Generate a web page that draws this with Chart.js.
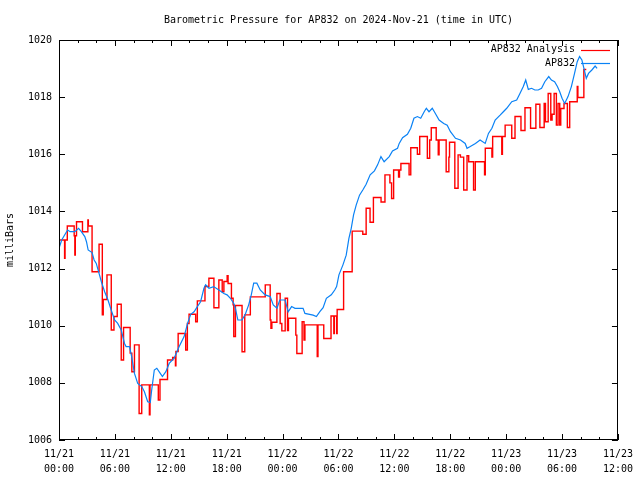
<!DOCTYPE html>
<html>
<head>
<meta charset="utf-8">
<script src="https://cdn.jsdelivr.net/npm/chart.js@4"></script>
<style>
  html, body { margin: 0; padding: 0; background: #fff; }
  #wrap { width: 640px; height: 480px; }
</style>
</head>
<body>
<div id="wrap"><canvas id="pressureChart" width="640" height="480"></canvas></div>
<script>
/* ===== Data (hours since 2024-11-21 00:00 UTC, millibars) ===== */
const title = 'Barometric Pressure for AP832 on 2024-Nov-21 (time in UTC)';
const yTitle = 'milliBars';
const seriesNames = ['AP832 Analysis', 'AP832'];
const yTicks = [1006, 1008, 1010, 1012, 1014, 1016, 1018, 1020];
const xTickHours = [0, 6, 12, 18, 24, 30, 36, 42, 48, 54, 60];
const xTickLabels = [
  ['11/21', '00:00'], ['11/21', '06:00'], ['11/21', '12:00'], ['11/21', '18:00'],
  ['11/22', '00:00'], ['11/22', '06:00'], ['11/22', '12:00'], ['11/22', '18:00'],
  ['11/23', '00:00'], ['11/23', '06:00'], ['11/23', '12:00']
];

// analysis (step series): hour where each value starts, value
const anaHours = [
  0, 0.6, 0.65, 0.89, 1.63, 1.7, 1.75, 1.88, 2.52, 3.1, 3.15, 3.55, 4.3, 4.65, 4.75, 5.15,
  5.61, 5.9, 6.25, 6.68, 6.93, 7.64, 7.82, 8.1, 8.6, 8.88, 9.7, 9.77, 10.66, 10.84, 11.65,
  12.2, 12.5, 12.55, 12.79, 13.6, 13.72, 13.78, 13.96, 14.67, 14.85, 15.67, 16.09, 16.63,
  17.16, 17.52, 17.7, 18.05, 18.15, 18.51, 18.69, 18.76, 18.94, 19.65, 19.94, 20.54, 22.14,
  22.67, 22.75, 22.85, 23.39, 23.74, 23.92, 24.28, 24.53, 24.63, 25.42, 25.53, 26.1, 26.3,
  26.4, 27.72, 27.8, 28.42, 29.2, 29.5, 29.55, 29.8, 29.86, 30.55, 31.47, 32.61, 32.97,
  33.39, 33.75, 34.57, 34.99, 35.52, 35.7, 35.92, 36.45, 36.55, 36.7, 37.58, 37.76, 38.47,
  38.72, 39.54, 39.79, 39.96, 40.49, 40.71, 40.8, 41.49, 41.56, 41.85, 41.92, 42.49, 42.84,
  43.09, 43.44, 43.8, 43.98, 44.5, 44.69, 45.68, 45.76, 46.47, 46.55, 47.53, 47.6, 47.89,
  48.6, 48.95, 49.59, 50.02, 50.62, 51.19, 51.62, 52.08, 52.22, 52.51, 52.79, 52.93, 53.15,
  53.39, 53.57, 53.75, 53.86, 54.21, 54.57, 54.82, 55.63, 55.7, 56.34, 56.6
];
const anaValues = [
  1013.0, 1012.36, 1013.0, 1013.49, 1013.15, 1012.47, 1013.15, 1013.64, 1013.29, 1013.7, 1013.49, 1011.89, 1012.85, 1010.38, 1010.92, 1011.78,
  1009.85, 1010.32, 1010.75, 1008.8, 1009.94, 1009.04, 1008.39, 1009.33, 1006.93, 1007.93, 1006.88, 1007.93, 1007.4, 1008.12, 1008.8,
  1008.89, 1008.6, 1009.1, 1009.73, 1009.15, 1009.15, 1010.08, 1010.4, 1010.14, 1010.87, 1011.37, 1011.66, 1010.63,
  1011.6, 1011.19, 1011.55, 1011.75, 1011.48, 1010.96, 1010.73, 1009.62, 1010.71, 1009.09, 1010.38, 1011.01, 1011.43,
  1010.2, 1009.91, 1010.12, 1011.13, 1010.08, 1009.82, 1010.96, 1009.83, 1010.26, 1009.67, 1009.03, 1010.14, 1009.5,
  1010.03, 1008.92, 1010.03, 1009.55, 1010.34, 1009.73, 1010.34, 1009.73, 1010.57, 1011.89, 1013.31, 1013.2, 1014.11,
  1013.62, 1014.49, 1014.33, 1015.28, 1015.0, 1014.45, 1015.45, 1015.2, 1015.45, 1015.68, 1015.28, 1016.23, 1016.0,
  1016.62, 1015.86, 1016.5, 1016.93, 1016.5, 1015.98, 1016.5, 1016.5, 1015.39, 1015.9, 1016.42, 1014.81, 1015.98,
  1015.9, 1014.75, 1015.95, 1015.74, 1014.75, 1015.74, 1015.28, 1016.21, 1015.9, 1016.62, 1016.0, 1016.62, 1017.02,
  1016.56, 1017.32, 1016.83, 1017.63, 1016.91, 1017.75, 1016.94, 1017.78, 1017.14, 1018.13, 1017.2, 1017.4, 1018.13,
  1017.02, 1017.78, 1017.02, 1017.6, 1017.78, 1016.94, 1017.84, 1018.37, 1017.99, 1018.97, 1018.97
];

// station observations
const obsHours = [
  0, 0.29, 0.92, 1.2, 1.7, 2.1, 2.4, 2.77, 2.95, 3.13, 3.55, 3.77, 4.0, 4.3, 4.55, 4.9, 5.26,
  5.6, 5.97, 6.3, 6.68, 7.03, 7.2, 7.57, 7.8, 8.1, 8.45, 8.88, 9.17, 9.52, 9.8, 9.95, 10.23,
  10.5, 10.87, 11.1, 11.47, 11.83, 12.36, 12.9, 13.43, 13.8, 14.14, 14.5, 14.85, 15.2, 15.56,
  15.74, 16.1, 16.6, 17.16, 17.7, 18.04, 18.4, 18.76, 18.94, 19.2, 19.64, 20.0, 20.36, 20.64,
  20.9, 21.24, 21.6, 22.13, 22.67, 23.0, 23.4, 23.7, 24.27, 24.6, 24.97, 25.33, 26.2, 26.4,
  27.28, 27.63, 28.0, 28.35, 28.7, 29.23, 29.6, 29.8, 30.05, 30.48, 30.83, 31.12, 31.37, 31.62,
  31.9, 32.26, 32.61, 32.97, 33.4, 33.86, 34.2, 34.56, 34.9, 35.45, 35.8, 36.34, 36.52, 36.88,
  37.4, 37.76, 38.1, 38.47, 38.83, 39.2, 39.43, 39.72, 40.07, 40.4, 40.8, 41.3, 41.67, 42.02,
  42.56, 43.1, 43.6, 43.8, 44.15, 44.7, 45.2, 45.75, 46.1, 46.47, 46.82, 47.35, 47.7, 48.06,
  48.6, 49.13, 49.48, 49.84, 50.1, 50.38, 50.73, 51.08, 51.44, 51.8, 52.15, 52.57, 52.86,
  53.2, 53.5, 53.75, 54.0, 54.28, 54.64, 55.0, 55.34, 55.63, 55.88, 56.13, 56.35, 56.6, 56.84,
  57.2, 57.55, 57.76
];
const obsValues = [
  1012.71, 1013.0, 1013.35, 1013.29, 1013.29, 1013.41, 1013.29, 1013.12, 1012.94, 1012.65, 1012.56, 1012.3, 1012.18, 1011.83, 1011.54, 1011.19, 1010.9,
  1010.55, 1010.2, 1010.08, 1009.85, 1009.38, 1009.27, 1009.27, 1008.92, 1008.33, 1007.98, 1007.87, 1007.69, 1007.34, 1007.31, 1007.75, 1008.45,
  1008.51, 1008.33, 1008.22, 1008.39, 1008.68, 1008.86, 1009.27, 1009.62, 1010.08, 1010.4, 1010.49, 1010.67, 1010.84, 1011.31,
  1011.43, 1011.31, 1011.37, 1011.25, 1011.13, 1011.08, 1010.96, 1010.78, 1010.61, 1010.2, 1010.2, 1010.4, 1010.73, 1011.08,
  1011.49, 1011.49, 1011.25, 1011.08, 1011.02, 1010.73, 1010.61, 1010.9, 1010.9, 1010.49, 1010.67, 1010.61, 1010.61, 1010.43,
  1010.37, 1010.32, 1010.49, 1010.63, 1010.96, 1011.08, 1011.25, 1011.37, 1011.78, 1012.13, 1012.47, 1013.06, 1013.41, 1013.88,
  1014.22, 1014.57, 1014.75, 1014.95, 1015.28, 1015.42, 1015.63, 1015.92, 1015.74, 1015.92, 1016.12, 1016.21, 1016.38, 1016.58,
  1016.7, 1016.91, 1017.26, 1017.32, 1017.26, 1017.49, 1017.61, 1017.49, 1017.61, 1017.43, 1017.2, 1017.08, 1017.02, 1016.79,
  1016.56, 1016.5, 1016.38, 1016.21, 1016.27, 1016.38, 1016.5, 1016.38, 1016.73, 1016.91, 1017.2, 1017.37, 1017.49, 1017.61,
  1017.84, 1017.9, 1018.13, 1018.37, 1018.6, 1018.27, 1018.31, 1018.25, 1018.25, 1018.31, 1018.54, 1018.72, 1018.6,
  1018.54, 1018.37, 1018.19, 1017.96, 1017.78, 1018.02, 1018.37, 1018.83, 1019.24, 1019.42, 1019.3, 1019.01, 1018.66, 1018.83,
  1018.95, 1019.09, 1019.01
];

const RED  = '#ff0000';
const BLUE = 'rgb(10,130,245)';
const FONT = "'DejaVu Sans Mono', monospace";

const toPoints = (xs, ys) => xs.map((x, i) => ({ x, y: ys[i] }));

/* ===== gnuplot-ish frame, tics, title and key ===== */
const framePlugin = {
  id: 'frame',
  afterDraw(chart) {
    const { ctx, chartArea: a, scales: { x, y } } = chart;
    ctx.save();
    ctx.strokeStyle = '#000';
    ctx.lineWidth = 1;
    ctx.strokeRect(Math.round(a.left) + 0.5, Math.round(a.top) + 0.5,
                   Math.round(a.right - a.left) - 1, Math.round(a.bottom - a.top) - 1);

    ctx.beginPath();
    // y tics, both sides, pointing in
    yTicks.forEach(v => {
      const py = Math.round(y.getPixelForValue(v)) + 0.5;
      ctx.moveTo(a.left, py); ctx.lineTo(a.left + 6, py);
      ctx.moveTo(a.right, py); ctx.lineTo(a.right - 6, py);
    });
    // x tics every 2 hours, major every 6
    for (let h = 0; h <= 60; h += 2) {
      const px = Math.round(x.getPixelForValue(h)) + 0.5;
      const len = xTickHours.includes(h) ? 6 : 3;
      ctx.moveTo(px, a.bottom); ctx.lineTo(px, a.bottom - len);
      ctx.moveTo(px, a.top); ctx.lineTo(px, a.top + len);
    }
    ctx.stroke();

    ctx.fillStyle = '#000';
    ctx.font = '10px ' + FONT;
    ctx.textBaseline = 'middle';
    ctx.textAlign = 'center';
    ctx.fillText(title, (a.left + a.right) / 2, 20);

    ctx.save();
    ctx.translate(10, (a.top + a.bottom) / 2);
    ctx.rotate(-Math.PI / 2);
    ctx.fillText(yTitle, 0, 0);
    ctx.restore();

    // key, top right
    const keyColors = [RED, BLUE];
    seriesNames.forEach((name, i) => {
      const ky = 49.5 + i * 13.5;
      ctx.textAlign = 'right';
      ctx.fillStyle = '#000';
      ctx.fillText(name, 575, ky);
      ctx.beginPath();
      ctx.strokeStyle = keyColors[i];
      ctx.lineWidth = 1.2;
      ctx.moveTo(581, Math.round(ky) + 0.5);
      ctx.lineTo(610, Math.round(ky) + 0.5);
      ctx.stroke();
    });
    ctx.restore();
  }
};

new Chart(document.getElementById('pressureChart'), {
  type: 'line',
  data: {
    datasets: [
      {
        label: seriesNames[1],
        data: toPoints(obsHours, obsValues),
        borderColor: BLUE,
        borderWidth: 1.2,
        pointRadius: 0,
        tension: 0,
        order: 1
      },
      {
        label: seriesNames[0],
        data: toPoints(anaHours, anaValues),
        borderColor: RED,
        borderWidth: 1.4,
        pointRadius: 0,
        stepped: 'before',
        order: 2
      }
    ]
  },
  plugins: [framePlugin],
  options: {
    responsive: false,
    animation: false,
    devicePixelRatio: 1,
    layout: { padding: { top: 40, right: 18, left: 0, bottom: 0 } },
    plugins: { legend: { display: false }, tooltip: { enabled: false }, title: { display: false } },
    scales: {
      x: {
        type: 'linear',
        min: 0, max: 60,
        grid: { display: false, drawTicks: false },
        border: { display: false },
        afterFit: s => { s.height = 40; },
        afterBuildTicks: s => { s.ticks = xTickHours.map(v => ({ value: v })); },
        ticks: {
          autoSkip: false, maxRotation: 0, padding: 7,
          color: '#000',
          font: { family: FONT, size: 10, lineHeight: 1.5 },
          callback: v => xTickLabels[xTickHours.indexOf(v)]
        }
      },
      y: {
        min: 1006, max: 1020,
        grid: { display: false, drawTicks: false },
        border: { display: false },
        afterFit: s => { s.width = 59; },
        afterBuildTicks: s => { s.ticks = yTicks.map(v => ({ value: v })); },
        ticks: {
          padding: 7,
          color: '#000',
          font: { family: FONT, size: 10 },
          callback: v => String(v)
        }
      }
    }
  }
});
</script>
</body>
</html>
